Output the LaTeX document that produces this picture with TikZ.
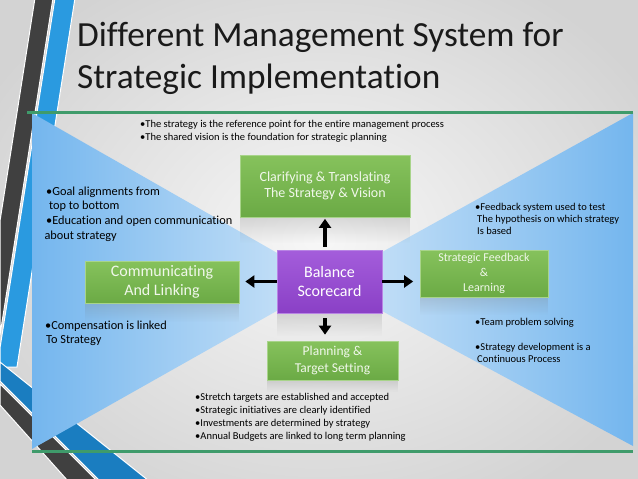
\documentclass[tikz,border=0pt]{standalone}
\usepackage{fontspec}
\setmainfont{Carlito}[Ligatures={NoCommon,NoContextual,NoRequired}]
\usetikzlibrary{arrows.meta,fadings}
\definecolor{bgin}{HTML}{F7F7F7}
\definecolor{bgout}{HTML}{D3D3D3}
\definecolor{stripedark}{HTML}{404040}
\definecolor{stripeblue}{HTML}{2A9AE0}
\definecolor{stripeblue2}{HTML}{1A7DC0}
\definecolor{triout}{HTML}{74B6EE}
\definecolor{triin}{HTML}{CFE5F8}
\definecolor{gline}{HTML}{3F9B6B}
\definecolor{gtop}{HTML}{86C25C}
\definecolor{gbot}{HTML}{6BAA45}
\definecolor{gborder}{HTML}{A8D48A}
\definecolor{ptop}{HTML}{A45DDB}
\definecolor{pbot}{HTML}{8A40C6}
\definecolor{pborder}{HTML}{B884E4}
\definecolor{boxtext}{HTML}{F0F7EA}
\definecolor{titlec}{HTML}{1A1A1A}
\tikzfading[name=fadedown, top color=transparent!0, bottom color=transparent!100]
\tikzset{
  gbox/.style={rectangle, draw=gborder, line width=0.7pt, top color=gtop, bottom color=gbot,
    text=boxtext, align=center, inner sep=0pt},
  pbox/.style={rectangle, draw=pborder, line width=0.7pt, top color=ptop, bottom color=pbot,
    text=white, align=center, inner sep=0pt},
  arr/.style={line width=3.5pt, -{Triangle[length=9pt,width=12pt]}},
  note/.style={anchor=base west, inner sep=0pt, text=black},
  refl/.style={fill=black!55, fill opacity=0.22, path fading=fadedown}
}
\begin{document}
\begin{tikzpicture}[x=1pt,y=-1pt]
\useasboundingbox (0,0) rectangle (638,479);
% background
\shade[inner color=bgin, outer color=bgout] (-60,-60) rectangle (698,539);
% left decorative stripes
\fill[stripedark, draw=white, line width=1pt] (35,-2) -- (53,-2) -- (0,335) -- (0,221) -- cycle;
\fill[stripeblue, draw=white, line width=1pt] (55,-2) -- (75,-2) -- (17,367) -- (0,367) -- (0,348) -- cycle;
\fill[stripeblue2, draw=white, line width=1pt] (0,362) -- (149,481) -- (100,481) -- (0,381) -- cycle;
\fill[stripedark, draw=white, line width=1pt] (0,384) -- (97,481) -- (68,481) -- (0,405) -- cycle;
% blue bow-tie
\shade[left color=triout, right color=triin] (32,113) -- (328,282) -- (32,449) -- cycle;
\shade[left color=triin, right color=triout] (633,113) -- (633,446) -- (328,282) -- cycle;
% green rules
\draw[gline, line width=3pt] (27,112) -- (633,112);
\draw[gline, line width=3pt] (32,451.5) -- (633,451.5);
% title
\node[anchor=base west, inner sep=0pt, text=titlec, font=\fontsize{35.3}{42}\selectfont] (title1) at (77,46) {Different Management System for};
\node[anchor=base west, inner sep=0pt, text=titlec, font=\fontsize{35.3}{42}\selectfont] (title2) at (77,88) {Strategic Implementation};
% reflections
\fill[refl] (240,217) rectangle (410,243);
\fill[refl] (277,313) rectangle (382,336);
\fill[refl] (85,303) rectangle (239,322);
\fill[refl] (420,297) rectangle (548,315);
\fill[refl] (267,380) rectangle (398,392);
% boxes
\node[gbox, minimum width=170pt, minimum height=62pt, font=\fontsize{14}{16.5}\selectfont] (clar) at (325,186) {Clarifying \& Translating\\The Strategy \& Vision};
\node[pbox, minimum width=105pt, minimum height=63pt, font=\fontsize{16}{18.7}\selectfont] (bal) at (329.5,281.5) {Balance\\Scorecard};
\node[gbox, minimum width=131pt, minimum height=39pt, font=\fontsize{13.5}{17}\selectfont] (plan) at (332.5,360.5) {Planning \&\\Target Setting};
\node[gbox, minimum width=154pt, minimum height=42pt, font=\fontsize{16}{18.7}\selectfont] (comm) at (162,282) {Communicating\\And Linking};
\node[gbox, minimum width=128pt, minimum height=47pt, font=\fontsize{12}{15}\selectfont] (feed) at (484,273.5) {Strategic Feedback\\\&\\Learning};
% arrows
\draw[arr, shorten <=3pt, shorten >=1.5pt] (clar.south |- bal.north) -- (clar.south);
\draw[arr, shorten <=5pt, shorten >=6pt] (bal.south -| clar.south) -- (plan.north -| clar.south);
\draw[arr, shorten >=6pt] (bal.west) -- (comm.east |- bal.west);
\draw[arr, shorten >=6.5pt] (bal.east) -- (feed.west |- bal.east);
% annotations
\begin{scope}[font=\fontsize{10.5}{12.5}\selectfont]
\node[note] (ta) at (140,127.5) {•The strategy is the reference point for the entire management process};
\node[note] (tb) at (140,140) {•The shared vision is the foundation for strategic planning};
\node[note] (ba) at (195,400.5) {•Stretch targets are established and accepted};
\node[note] (bb) at (195,413.5) {•Strategic initiatives are clearly identified};
\node[note] (bc) at (195,426.5) {•Investments are determined by strategy};
\node[note] (bd) at (195,439.5) {•Annual Budgets are linked to long term planning};
\end{scope}
\begin{scope}[font=\fontsize{12.3}{14.7}\selectfont]
\node[note] (la) at (46,195.7) {•Goal alignments from};
\node[note] (lb) at (49,209.7) {top to bottom};
\node[note] (lc) at (46,224.7) {•Education and open communication};
\node[note] (ld) at (44.3,239.7) {about strategy};
\node[note] (le) at (45,329.6) {•Compensation is linked};
\node[note] (lf) at (46,343.6) {To Strategy};
\end{scope}
\begin{scope}[font=\fontsize{10.5}{12.3}\selectfont]
\node[note] (ra) at (475,210) {•Feedback system used to test};
\node[note] (rb) at (477,222.3) {The hypothesis on which strategy};
\node[note] (rc) at (477,234.6) {Is based};
\node[note] (rd) at (475,325) {•Team problem solving};
\node[note] (re) at (475,350) {•Strategy development is a};
\node[note] (rf) at (477,362.5) {Continuous Process};
\end{scope}
\end{tikzpicture}
\end{document}
